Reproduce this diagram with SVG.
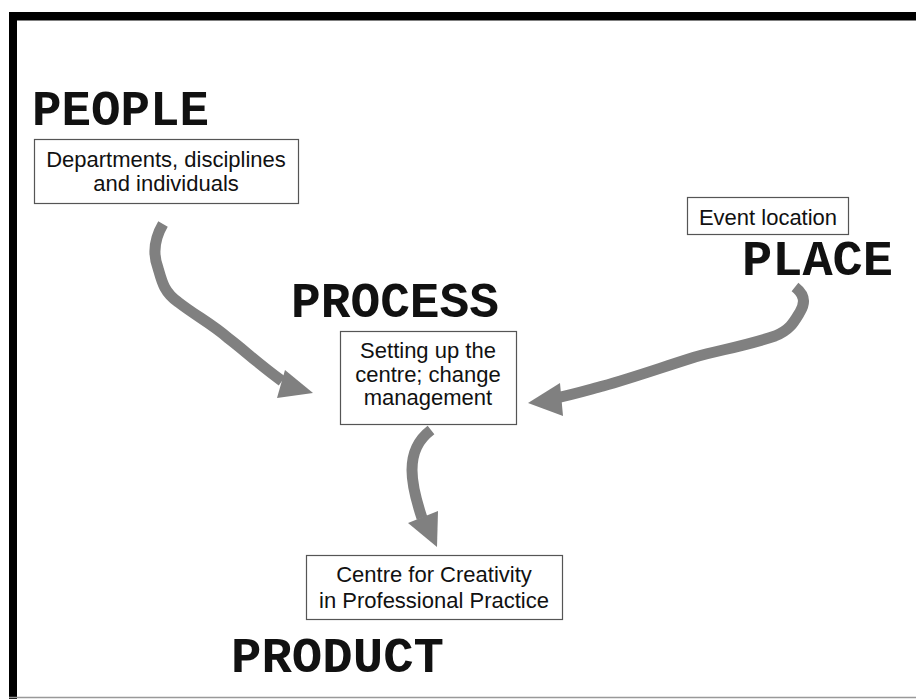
<svg xmlns="http://www.w3.org/2000/svg" width="916" height="699" viewBox="0 0 916 699">
<style>
.title{font-family:"Liberation Mono","Courier New",monospace;font-weight:bold;font-size:50px;fill:#111}
.box{fill:#fff;stroke:#555;stroke-width:1.2}
.lbl{font-family:"Liberation Sans",Arial,sans-serif;font-size:22px;fill:#111;text-anchor:middle}
.arr{fill:none;stroke:#808080;stroke-width:11;stroke-linecap:butt;stroke-linejoin:round}
.head{fill:#808080}
</style>
<rect x="0" y="0" width="916" height="699" fill="#fff"/>
<g id="frame">
<rect x="9" y="12" width="907" height="8.5" fill="#000"/>
<rect x="9" y="12" width="8" height="687" fill="#000"/>
<line x1="9" y1="697.5" x2="916" y2="697.5" stroke="#999" stroke-width="1.5"/>
</g>
<g id="connectors">
<path class="arr" d="M163,224 C156,236 152,252 158,268 C162,282 164,292 178,302 C196,316 212,324 228,338 C244,350 256,362 282,381"/>
<polygon class="head" points="285,370 313,393 277,398"/>
<path class="arr" d="M795,287 C804,294 806,302 800,312 C794,322 790,330 775,336 C745,346 720,350 695,357 C660,368 632,378 603,386 C588,390 575,394 556,398"/>
<polygon class="head" points="528,403 560,383 563,416"/>
<path class="arr" d="M431,430 C418,440 412,452 412,470 C412,485 416,500 422,518"/>
<polygon class="head" points="408,523 438,511 437,547"/>
</g>
<g id="people">
<text class="title" x="32" y="125" textLength="177" lengthAdjust="spacingAndGlyphs">PEOPLE</text>
<rect class="box" x="34.5" y="139.5" width="264" height="64"/>
<text class="lbl" x="166" y="167">Departments, disciplines</text>
<text class="lbl" x="166" y="191">and individuals</text>
</g>
<g id="process">
<text class="title" x="291" y="317" textLength="208" lengthAdjust="spacingAndGlyphs">PROCESS</text>
<rect class="box" x="340.5" y="331.5" width="176" height="93"/>
<text class="lbl" x="428" y="358">Setting up the</text>
<text class="lbl" x="428" y="382">centre; change</text>
<text class="lbl" x="428" y="405">management</text>
</g>
<g id="place">
<rect class="box" x="687.5" y="197.5" width="161" height="37"/>
<text class="lbl" x="768" y="225">Event location</text>
<text class="title" x="742" y="275" textLength="151" lengthAdjust="spacingAndGlyphs">PLACE</text>
</g>
<g id="product">
<rect class="box" x="306.5" y="555.5" width="256" height="64"/>
<text class="lbl" x="434" y="582">Centre for Creativity</text>
<text class="lbl" x="434" y="608">in Professional Practice</text>
<text class="title" x="231" y="672" textLength="213" lengthAdjust="spacingAndGlyphs">PRODUCT</text>
</g>
</svg>
